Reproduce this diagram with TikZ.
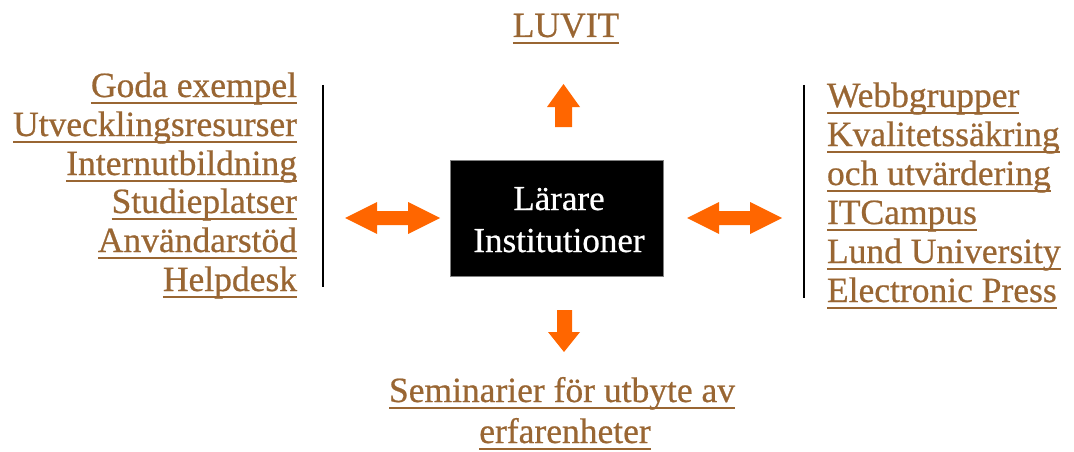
\documentclass[tikz,border=0pt]{standalone}
\usepackage{fontspec}
\setmainfont{Liberation Serif}[FakeBold=0.6]
\definecolor{linkbrown}{RGB}{153,102,51}
\definecolor{arroworange}{RGB}{255,102,0}
\tikzset{
  lbl/.style={inner sep=0pt, outer sep=0pt, text=linkbrown, font=\fontsize{35.5}{38}\selectfont},
  boxtext/.style={text=white, inner sep=0pt, anchor=base, font=\fontsize{35}{38}\selectfont},
  ul/.style={draw=linkbrown, line width=2pt},
  arr/.style={fill=arroworange, draw=none},
  sep/.style={draw=black, line width=1.5pt},
}
\newcommand{\ulnode}[4]{%
  \node[lbl, anchor=#2] (#1) at (#3) {#4};
  \draw[ul] ([yshift=-6pt]#1.base west) -- ([yshift=-6pt]#1.base east);
}
\begin{document}
\begin{tikzpicture}[x=1pt,y=-1pt]
\useasboundingbox (0,0) rectangle (1074,452);
% central box
\node[fill=black, draw=gray, minimum width=213pt, minimum height=116pt, inner sep=0pt, anchor=north west] (box) at (450,160) {};
\node[boxtext] (l1) at (559,210) {Lärare};
\node[boxtext] (l2) at (559,252) {Institutioner};
% top
\ulnode{luvit}{base}{566,37}{LUVIT}
% bottom
\ulnode{sem1}{base}{562,402}{Seminarier för utbyte av}
\ulnode{sem2}{base}{565,443}{erfarenheter}
% left list
\ulnode{a1}{base east}{297,97}{Goda exempel}
\ulnode{a2}{base east}{297,136}{Utvecklingsresurser}
\ulnode{a3}{base east}{297,175}{Internutbildning}
\ulnode{a4}{base east}{297,213}{Studieplatser}
\ulnode{a5}{base east}{297,252}{Användarstöd}
\ulnode{a6}{base east}{297,291}{Helpdesk}
% right list
\ulnode{b1}{base west}{827,107}{Webbgrupper}
\ulnode{b2}{base west}{827,146}{Kvalitetssäkring}
\ulnode{b3}{base west}{827,185}{och utvärdering}
\ulnode{b4}{base west}{827,224}{ITCampus}
\ulnode{b5}{base west}{827,263}{Lund University}
\ulnode{b6}{base west}{827,302}{Electronic Press}
% separators
\draw[sep] (323,85) -- (323,287);
\draw[sep] (804,85) -- (804,298);
% left double arrow
\fill[arr] (345,218) -- (377,202) -- (377,211) -- (408,211) -- (408,202) -- (440,218)
  -- (408,234) -- (408,225) -- (377,225) -- (377,234) -- cycle;
% right double arrow
\fill[arr] (687,218) -- (719,202) -- (719,211) -- (750,211) -- (750,202) -- (782,218)
  -- (750,234) -- (750,225) -- (719,225) -- (719,234) -- cycle;
% up arrow
\fill[arr] (563.5,84) -- (580,107) -- (572,107) -- (572,127) -- (555,127) -- (555,107) -- (547,107) -- cycle;
% down arrow
\fill[arr] (564,352) -- (580,332) -- (572,332) -- (572,310) -- (557,310) -- (557,332) -- (548,332) -- cycle;
\end{tikzpicture}
\end{document}
